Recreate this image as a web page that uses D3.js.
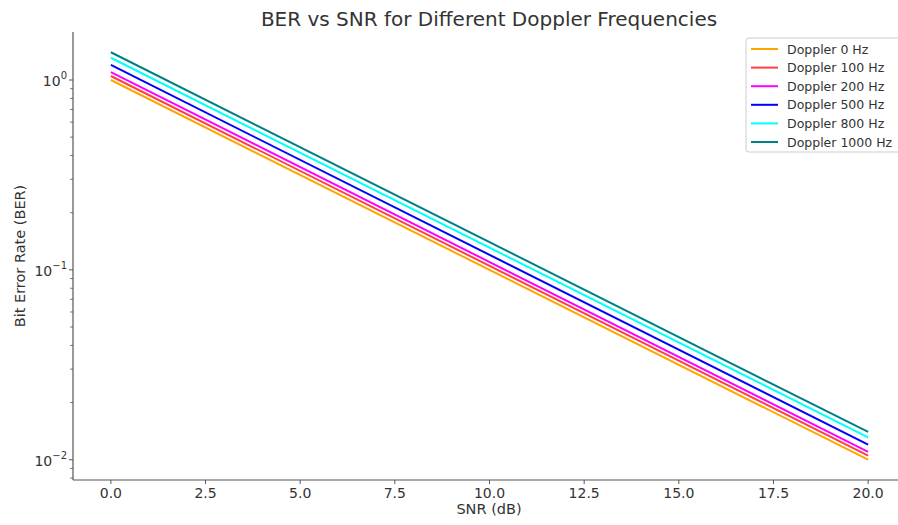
<!DOCTYPE html>
<html>
<head>
<meta charset="utf-8">
<script src="https://cdn.jsdelivr.net/npm/d3@7"></script>
<style>
  body { margin: 0; background: #fff; }
  text { font-family: "DejaVu Sans", sans-serif; }
</style>
</head>
<body>
<div id="chart"></div>
<script>
// data (straight lines on a log axis, so two points each)
var snr = [0, 20];
var dopplers = ["Doppler 0 Hz", "Doppler 100 Hz", "Doppler 200 Hz", "Doppler 500 Hz", "Doppler 800 Hz", "Doppler 1000 Hz"];
var ber0 = [1.0, 0.0100];
var ber100 = [1.05, 0.0105];
var ber200 = [1.10, 0.0110];
var ber500 = [1.20, 0.0120];
var ber800 = [1.31, 0.0131];
var ber1000 = [1.40, 0.0140];
var xTicks = [0, 2.5, 5, 7.5, 10, 12.5, 15, 17.5, 20];
var yTicks = [1, 0.1, 0.01];
var yExp = ["0", "\u22121", "\u22122"];
var colors = ["#ffa500", "#ff4040", "#ff00ff", "#0000ff", "#00ffff", "#008080"];

var series = [ber0, ber100, ber200, ber500, ber800, ber1000];

var W = 898, H = 525;
var svg = d3.select("#chart").append("svg")
  .attr("width", W).attr("height", H);

// x and y scales (axes extend a bit past the data, like matplotlib margins)
var x = d3.scaleLinear().domain([-1, 21]).range([73, 906]);
var y = d3.scaleLog().domain([0.00782, 1.79]).range([480, 32]);

var axisColor = "#555";
var textColor = "#333";

// lines
var line = d3.line()
  .x(function (d, i) { return x(snr[i]); })
  .y(function (d) { return y(d); });

svg.selectAll(".ber")
  .data(series)
  .enter()
  .append("path")
  .attr("d", function (d) { return line(d); })
  .attr("fill", "none")
  .attr("stroke", function (d, i) { return colors[i]; })
  .attr("stroke-width", 2);

// spines
svg.append("line")
  .attr("x1", x.range()[0]).attr("x2", x.range()[0])
  .attr("y1", y.range()[1]).attr("y2", y.range()[0])
  .attr("stroke", axisColor).attr("stroke-width", 1.2);
svg.append("line")
  .attr("x1", x.range()[0]).attr("x2", x.range()[1])
  .attr("y1", y.range()[0]).attr("y2", y.range()[0])
  .attr("stroke", axisColor).attr("stroke-width", 1.2);

// x ticks
var xg = svg.append("g");
xTicks.forEach(function (t) {
  xg.append("line")
    .attr("x1", x(t)).attr("x2", x(t))
    .attr("y1", 480).attr("y2", 484)
    .attr("stroke", axisColor).attr("stroke-width", 1);
  xg.append("text")
    .attr("x", x(t)).attr("y", 498)
    .attr("text-anchor", "middle")
    .attr("fill", textColor)
    .style("font-size", "14px")
    .text(t.toFixed(1));
});

// y ticks (major + minor)
var yg = svg.append("g");
var minor = [];
[0.001, 0.01, 0.1, 1].forEach(function (dec) {
  for (var k = 2; k <= 9; k++) minor.push(dec * k);
});
minor.filter(function (v) { return v > y.domain()[0] && v < y.domain()[1]; })
  .forEach(function (v) {
    yg.append("line")
      .attr("x1", 73).attr("x2", 70)
      .attr("y1", y(v)).attr("y2", y(v))
      .attr("stroke", axisColor).attr("stroke-width", 0.8);
  });
yTicks.forEach(function (t, i) {
  yg.append("line")
    .attr("x1", 73).attr("x2", 69)
    .attr("y1", y(t)).attr("y2", y(t))
    .attr("stroke", axisColor).attr("stroke-width", 1);
  var lab = yg.append("text")
    .attr("x", 67).attr("y", y(t) + 6)
    .attr("text-anchor", "end")
    .attr("fill", textColor)
    .style("font-size", "14px");
  lab.append("tspan").text("10");
  lab.append("tspan").attr("dy", -7).style("font-size", "10px").text(yExp[i]);
});

// title and axis labels
svg.append("text")
  .attr("x", 489).attr("y", 26)
  .attr("text-anchor", "middle")
  .attr("fill", textColor)
  .style("font-size", "20px")
  .text("BER vs SNR for Different Doppler Frequencies");

svg.append("text")
  .attr("x", 489).attr("y", 514)
  .attr("text-anchor", "middle")
  .attr("fill", textColor)
  .style("font-size", "14.5px")
  .text("SNR (dB)");

svg.append("text")
  .attr("transform", "translate(25,256) rotate(-90)")
  .attr("text-anchor", "middle")
  .attr("fill", textColor)
  .style("font-size", "14.5px")
  .text("Bit Error Rate (BER)");

// legend
var legend = svg.append("g").attr("transform", "translate(746,38)");
legend.append("rect")
  .attr("x", 0).attr("y", 0)
  .attr("width", 160).attr("height", 114)
  .attr("rx", 3)
  .attr("fill", "#fff")
  .attr("stroke", "#ccc");
dopplers.forEach(function (name, i) {
  var ly = 11 + i * 18.6;
  legend.append("line")
    .attr("x1", 5).attr("x2", 32)
    .attr("y1", ly).attr("y2", ly)
    .attr("stroke", colors[i]).attr("stroke-width", 2);
  legend.append("text")
    .attr("x", 41).attr("y", ly + 4.5)
    .attr("fill", textColor)
    .style("font-size", "12.5px")
    .text(name);
});
</script>
</body>
</html>
